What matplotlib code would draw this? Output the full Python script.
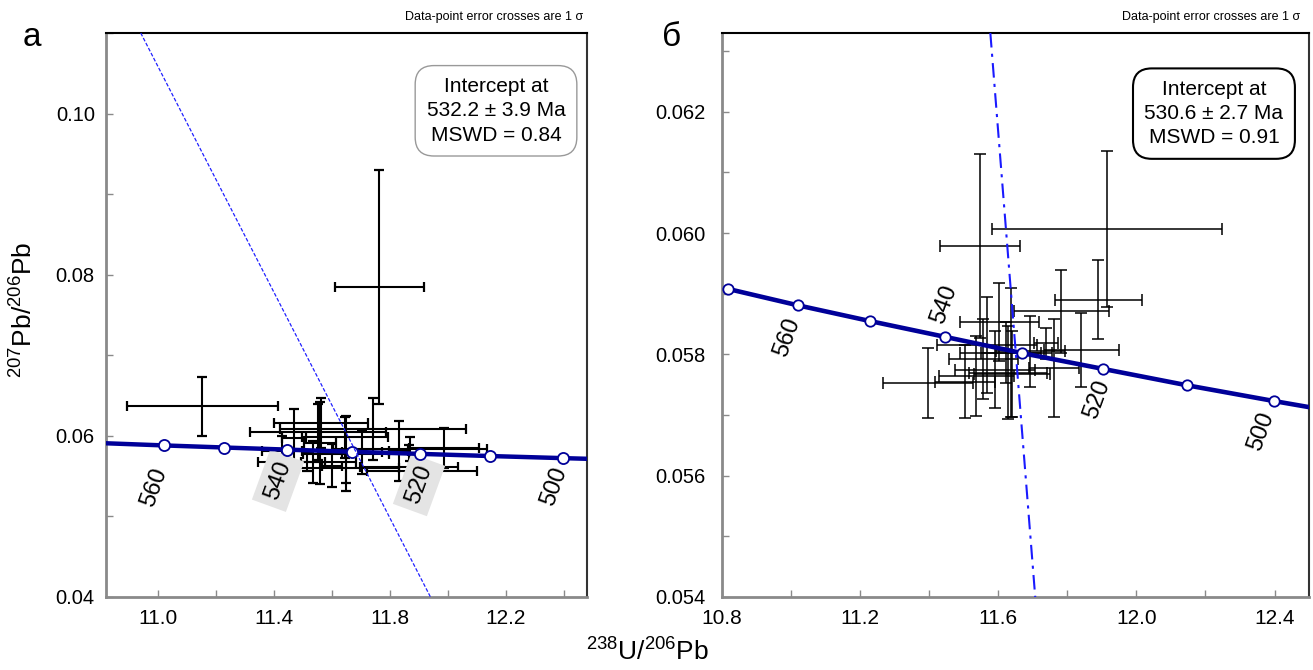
import matplotlib.pyplot as plt
from matplotlib.ticker import MultipleLocator

plt.rcParams['font.family'] = ['Liberation Sans', 'DejaVu Sans']
plt.rcParams['mathtext.fontset'] = 'custom'
plt.rcParams['mathtext.rm'] = 'Liberation Sans'
plt.rcParams['mathtext.it'] = 'Liberation Sans:italic'
plt.rcParams['mathtext.bf'] = 'Liberation Sans:bold'

# Concordia points (age in Ma)
conc_age = [570, 560, 550, 540, 530, 520, 510, 500, 490]
conc_u238 = [10.817, 11.019, 11.228, 11.445, 11.670, 11.904, 12.147, 12.399, 12.662]
conc_pb207 = [0.05908, 0.05881, 0.05855, 0.05829, 0.05802, 0.05776, 0.05749, 0.05723, 0.05697]

# Panel a: error crosses (1 sigma)
a_x = [11.153, 11.764, 11.741, 11.986, 11.562, 11.552, 11.469, 11.559, 11.648, 11.600,
       11.534, 11.645, 11.869, 11.514, 11.648, 11.866, 11.910, 11.703, 11.428, 11.830]
a_xerr = [0.260, 0.152, 0.321, 0.120, 0.162, 0.234, 0.041, 0.055, 0.148, 0.034,
          0.041, 0.148, 0.266, 0.169, 0.183, 0.169, 0.190, 0.069, 0.069, 0.034]
a_y = [0.06366, 0.07845, 0.0609, 0.0585, 0.0616, 0.0605, 0.0597, 0.0591, 0.0578, 0.0563,
       0.0568, 0.0598, 0.0584, 0.0568, 0.0560, 0.0561, 0.0556, 0.0580, 0.0581, 0.0581]
a_yerr = [0.00366, 0.01453, 0.00385, 0.0025, 0.0031, 0.0035, 0.0036, 0.0051, 0.0046, 0.0027,
          0.0026, 0.0025, 0.0015, 0.0012, 0.0019, 0.0027, 0.0012, 0.0027, 0.0019, 0.0037]

# Panel b: error crosses (1 sigma)
b_x = [11.546, 11.916, 11.890, 11.783, 11.841, 11.603, 11.568, 11.591, 11.536, 11.397,
       11.762, 11.693, 11.638, 11.629, 11.557, 11.623, 11.641, 11.504, 11.739]
b_xerr = [0.116, 0.333, 0.125, 0.138, 0.110, 0.114, 0.145, 0.116, 0.109, 0.130,
          0.072, 0.101, 0.087, 0.113, 0.101, 0.133, 0.110, 0.087, 0.035]
b_y = [0.05979, 0.06007, 0.05890, 0.05871, 0.05807, 0.05853, 0.05815, 0.05775, 0.05764, 0.05753,
       0.05777, 0.05805, 0.05803, 0.05770, 0.05792, 0.05803, 0.05767, 0.05755, 0.05818]
b_yerr = [0.00152, 0.00129, 0.00065, 0.00068, 0.00061, 0.00064, 0.00079, 0.00063, 0.00066, 0.00058,
          0.00081, 0.00059, 0.00107, 0.00076, 0.00066, 0.00050, 0.00071, 0.00060, 0.00025]

# Discordia lines (two points each, read at the frame edges)
disc_a_x = [10.94, 11.94]
disc_a_y = [0.110, 0.040]
disc_b_x = [11.577, 11.707]
disc_b_y = [0.0633, 0.054]

# Labelled ages and text
a_label_ages = [560, 540, 520, 500]
b_label_ages = [560, 540, 520, 500]
a_box = 'Intercept at\n532.2 ± 3.9 Ma\nMSWD = 0.84'
b_box = 'Intercept at\n530.6 ± 2.7 Ma\nMSWD = 0.91'
note = 'Data-point error crosses are 1 σ'

CONC_COLOR = '#000099'
GREY = '#8a8a8a'

fig = plt.figure(figsize=(13.13, 6.70), dpi=100)
ax1 = fig.add_axes([0.0807, 0.1090, 0.3663, 0.8418])
ax2 = fig.add_axes([0.5499, 0.1090, 0.4471, 0.8418])


def style_axes(ax, xlim, ylim, xmaj, ymaj, xfmt, yfmt, ypad):
    ax.set_xlim(*xlim)
    ax.set_ylim(*ylim)
    ax.xaxis.set_major_locator(MultipleLocator(xmaj))
    ax.xaxis.set_minor_locator(MultipleLocator(xmaj / 2))
    ax.yaxis.set_major_locator(MultipleLocator(ymaj))
    ax.yaxis.set_minor_locator(MultipleLocator(ymaj / 2))
    ax.xaxis.set_major_formatter(xfmt)
    ax.yaxis.set_major_formatter(yfmt)
    ax.tick_params(which='both', direction='in', length=5, width=1, color=GREY,
                   top=False, right=False)
    ax.tick_params(axis='x', pad=9, labelsize=15)
    ax.tick_params(axis='y', pad=ypad, labelsize=14.5)
    for side in ('left', 'bottom'):
        ax.spines[side].set_color(GREY)
        ax.spines[side].set_linewidth(2)
    ax.spines['top'].set_color('black')
    ax.spines['top'].set_linewidth(1.5)
    ax.spines['right'].set_color('#333333')
    ax.spines['right'].set_linewidth(1.5)


def draw_concordia(ax, ms, lw):
    ax.plot(conc_u238, conc_pb207, color=CONC_COLOR, lw=lw, zorder=4, solid_capstyle='butt')
    x0, x1 = ax.get_xlim()
    mx = [x for x in conc_u238 if x0 + 0.01 < x < x1]
    my = [y for x, y in zip(conc_u238, conc_pb207) if x0 + 0.01 < x < x1]
    ax.plot(mx, my, 'o', ms=ms, mfc='white', mec=CONC_COLOR, mew=1.3, zorder=5)


# ---- panel a ----
style_axes(ax1, (10.82, 12.48), (0.04, 0.11), 0.4, 0.02, '{x:.1f}', '{x:.2f}', 8)
ax1.xaxis.set_major_locator(MultipleLocator(0.4, offset=0.2))
ax1.errorbar(a_x, a_y, xerr=a_xerr, yerr=a_yerr, fmt='none', ecolor='black',
             elinewidth=1.5, capsize=3.5, capthick=1.6, zorder=3)
ax1.plot(disc_a_x, disc_a_y, color='#2020ff', lw=0.9, ls=(0, (3, 1.5)), zorder=6)
draw_concordia(ax1, 8, 3.2)

a_offsets = {560: (-9, -42), 540: (-9, -31), 520: (-1, -31), 500: (-9, -28)}
for age in a_label_ages:
    i = conc_age.index(age)
    bbox = None
    if age in (540, 520):
        bbox = dict(boxstyle='square,pad=0.3', fc='#e4e4e4', ec='none')
    ax1.annotate(str(age), (conc_u238[i], conc_pb207[i]), xytext=a_offsets[age],
                 textcoords='offset pixels', rotation=70, fontsize=17,
                 ha='center', va='center', bbox=bbox, zorder=3.5)

ax1.text(0.811, 0.862, a_box, transform=ax1.transAxes, fontsize=15, ha='center',
         va='center', multialignment='center', linespacing=1.35,
         bbox=dict(boxstyle='round,pad=0.55,rounding_size=0.9', fc='white', ec='#999999', lw=1),
         zorder=7)
ax1.text(0.992, 1.028, note, transform=ax1.transAxes, fontsize=9, ha='right', va='center')

# ---- panel b ----
style_axes(ax2, (10.8, 12.5), (0.054, 0.0633), 0.4, 0.002, '{x:.1f}', '{x:.3f}', 12)
ax2.errorbar(b_x, b_y, xerr=b_xerr, yerr=b_yerr, fmt='none', ecolor='black',
             elinewidth=1.1, capsize=4, capthick=1.1, zorder=3)
ax2.plot(disc_b_x, disc_b_y, color='#1a1aff', lw=1.5, ls=(0, (7, 3, 1.5, 3)), zorder=6)
draw_concordia(ax2, 7.5, 3.3)

b_offsets = {560: (-10, -32), 540: (-1, 32), 520: (-6, -31), 500: (-13, -30)}
for age in b_label_ages:
    i = conc_age.index(age)
    ax2.annotate(str(age), (conc_u238[i], conc_pb207[i]), xytext=b_offsets[age],
                 textcoords='offset pixels', rotation=70, fontsize=17,
                 ha='center', va='center', zorder=2)

ax2.text(0.838, 0.857, b_box, transform=ax2.transAxes, fontsize=15, ha='center',
         va='center', multialignment='center', linespacing=1.35,
         bbox=dict(boxstyle='round,pad=0.55,rounding_size=0.9', fc='white', ec='black', lw=1.5),
         zorder=7)
ax2.text(0.985, 1.028, note, transform=ax2.transAxes, fontsize=9, ha='right', va='center')

# panel letters and shared axis labels
fig.text(32 / 1313, 1 - 38 / 670, 'а', fontsize=24, ha='center', va='center')
fig.text(672 / 1313, 1 - 38 / 670, 'б', fontsize=24, ha='center', va='center')
fig.text(24 / 1313, 1 - 310 / 670, r'$\mathrm{^{207}Pb/^{206}Pb}$', fontsize=19,
         rotation=90, ha='center', va='center')
fig.text(648 / 1313, 1 - 652 / 670, r'$\mathrm{^{238}U/^{206}Pb}$', fontsize=19,
         ha='center', va='center')

fig.savefig('out.png', dpi=100)
